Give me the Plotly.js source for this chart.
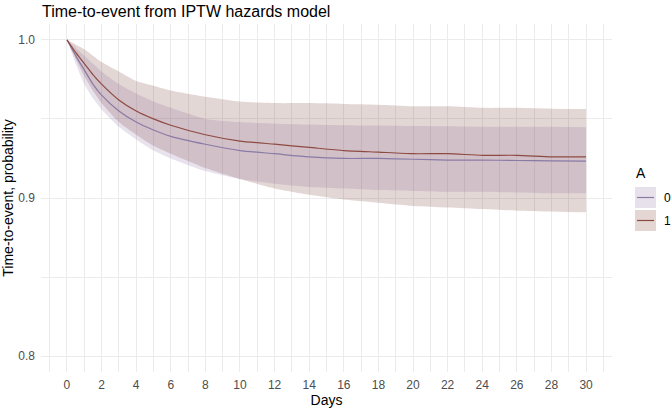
<!DOCTYPE html>
<html>
<head>
<meta charset="utf-8">
<script src="https://cdn.plot.ly/plotly-3.0.1.min.js"></script>
<style>html,body{margin:0;padding:0;background:#fff;}#chart{width:672px;height:412px;}</style>
</head>
<body>
<div id="chart"></div>
<script>
// ---- data ----
const days   = [0, 0.5, 1, 1.5, 2, 3, 4, 5, 6, 8, 10, 12, 14, 16, 18, 20, 22, 24, 26, 28, 30];
// group A = 0
const surv0  = [1.0, 0.990, 0.981, 0.972, 0.965, 0.955, 0.948, 0.943, 0.939, 0.934, 0.930, 0.928, 0.926, 0.925, 0.925, 0.9245, 0.924, 0.924, 0.9237, 0.9235, 0.9233];
const lower0 = [1.0, 0.985, 0.972, 0.963, 0.956, 0.945, 0.937, 0.930, 0.925, 0.917, 0.912, 0.909, 0.907, 0.906, 0.905, 0.9045, 0.904, 0.904, 0.9035, 0.903, 0.903];
const upper0 = [1.0, 0.995, 0.990, 0.985, 0.980, 0.972, 0.966, 0.961, 0.957, 0.950, 0.948, 0.947, 0.9465, 0.946, 0.9458, 0.9455, 0.9453, 0.945, 0.945, 0.945, 0.9448];
// group A = 1
const surv1  = [1.0, 0.992, 0.985, 0.978, 0.972, 0.962, 0.955, 0.950, 0.946, 0.940, 0.936, 0.934, 0.932, 0.930, 0.929, 0.928, 0.928, 0.927, 0.927, 0.926, 0.926];
const lower1 = [1.0, 0.988, 0.977, 0.968, 0.960, 0.948, 0.940, 0.933, 0.928, 0.919, 0.912, 0.906, 0.902, 0.899, 0.897, 0.895, 0.894, 0.893, 0.892, 0.8915, 0.891];
const upper1 = [1.0, 0.997, 0.994, 0.990, 0.986, 0.980, 0.974, 0.971, 0.968, 0.964, 0.961, 0.960, 0.960, 0.9595, 0.959, 0.958, 0.958, 0.957, 0.957, 0.9565, 0.9563];
const groups = ["0", "1"];
const xTicks = [0, 2, 4, 6, 8, 10, 12, 14, 16, 18, 20, 22, 24, 26, 28, 30];
const yTicks = [0.8, 0.9, 1.0];
const yTickText = ["0.8", "0.9", "1.0"];

// ---- styles ----
const fill0 = "rgba(140,110,165,0.2)";
const fill1 = "rgba(125,65,60,0.21)";
const line0 = "#8A7AA6";
const line1 = "#8E4A42";
const key0 = "#E7E1EC";
const key1 = "#E3D6D3";
const grid = "#EBEBEB";
const FONT = "Liberation Sans, Arial, sans-serif";

const traces = [
  {x: days, y: lower0, mode: "lines", line: {width: 0, shape: "spline", smoothing: 0.6}, hoverinfo: "skip", showlegend: false},
  {x: days, y: upper0, mode: "lines", line: {width: 0, shape: "spline", smoothing: 0.6}, fill: "tonexty", fillcolor: fill0, hoverinfo: "skip", showlegend: false},
  {x: days, y: lower1, mode: "lines", line: {width: 0, shape: "spline", smoothing: 0.6}, hoverinfo: "skip", showlegend: false},
  {x: days, y: upper1, mode: "lines", line: {width: 0, shape: "spline", smoothing: 0.6}, fill: "tonexty", fillcolor: fill1, hoverinfo: "skip", showlegend: false},
  {x: days, y: surv0, mode: "lines", line: {width: 1.2, color: line0, shape: "spline", smoothing: 0.6}, name: groups[0], showlegend: false},
  {x: days, y: surv1, mode: "lines", line: {width: 1.2, color: line1, shape: "spline", smoothing: 0.6}, name: groups[1], showlegend: false}
];

// plot area in pixels
const L = 41, R = 612, T = 24, B = 372, W = 672, H = 412;
const px = v => (v - L) / (R - L);
const py = v => (B - v) / (B - T);

function keyShapes(y0, fill, lc) {
  return [
    {type: "rect", xref: "paper", yref: "paper", x0: px(635), x1: px(656), y0: py(y0 + 21), y1: py(y0), fillcolor: fill, line: {width: 0}, layer: "above"},
    {type: "line", xref: "paper", yref: "paper", x0: px(637), x1: px(654), y0: py(y0 + 10.5), y1: py(y0 + 10.5), line: {color: lc, width: 1.2}, layer: "above"}
  ];
}

const layout = {
  width: W, height: H,
  margin: {l: L, r: W - R, t: T, b: H - B, pad: 0},
  paper_bgcolor: "#fff", plot_bgcolor: "#fff",
  font: {family: FONT, color: "#000"},
  showlegend: false,
  title: {text: "Time-to-event from IPTW hazards model", x: 42 / W, xanchor: "left", y: 1 - 11 / H, yanchor: "middle",
          font: {size: 16, color: "#000", family: FONT}},
  xaxis: {
    range: [-1.5, 31.5], tickvals: xTicks, ticktext: xTicks.map(String),
    showgrid: true, gridcolor: grid, gridwidth: 1, zeroline: false, showline: false, ticks: "",
    tickfont: {size: 12, color: "#4D4D4D"}, ticklabelstandoff: 4,
    minor: {dtick: 1, tick0: 0, showgrid: true, gridcolor: grid, gridwidth: 1},
    title: {text: "Days", font: {size: 14, color: "#000"}, standoff: 2}
  },
  yaxis: {
    range: [0.79, 1.01], tickvals: yTicks, ticktext: yTickText,
    showgrid: true, gridcolor: grid, gridwidth: 1, zeroline: false, showline: false, ticks: "",
    tickfont: {size: 12, color: "#4D4D4D"}, ticklabelstandoff: 5,
    minor: {tickvals: [0.85, 0.95], showgrid: true, gridcolor: grid, gridwidth: 1},
    title: {text: "Time-to-event, probability", font: {size: 14, color: "#000"}, standoff: 6}
  },
  shapes: [].concat(keyShapes(187, key0, line0), keyShapes(210, key1, line1)),
  annotations: [
    {text: "A", xref: "paper", yref: "paper", x: px(634), y: py(173), xanchor: "left", yanchor: "middle", showarrow: false, font: {size: 14, color: "#000"}},
    {text: groups[0], xref: "paper", yref: "paper", x: px(662), y: py(197.5), xanchor: "left", yanchor: "middle", showarrow: false, font: {size: 12, color: "#000"}},
    {text: groups[1], xref: "paper", yref: "paper", x: px(662), y: py(220.5), xanchor: "left", yanchor: "middle", showarrow: false, font: {size: 12, color: "#000"}}
  ]
};

Plotly.newPlot("chart", traces, layout, {displayModeBar: false, staticPlot: true});
</script>
</body>
</html>
